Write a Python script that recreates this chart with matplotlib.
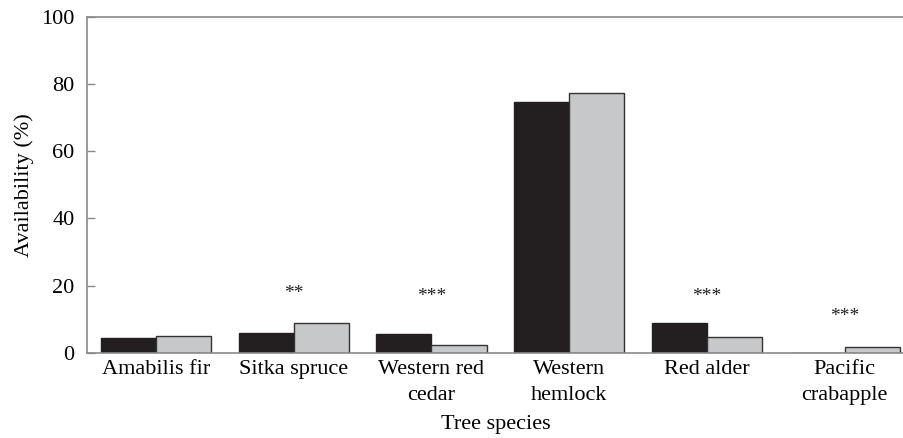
import numpy as np
import matplotlib
matplotlib.use("Agg")
import matplotlib.pyplot as plt

species = ["Amabilis fir", "Sitka spruce", "Western red\ncedar",
           "Western\nhemlock", "Red alder", "Pacific\ncrabapple"]
used = [4.4, 6.0, 5.6, 74.5, 9.0, 0.0]
available = [5.0, 8.8, 2.3, 77.2, 4.7, 1.9]
stars = ["", "**", "***", "", "***", "***"]
star_y = [0, 17.6, 16.9, 0, 16.9, 11.0]

plt.rcParams["font.family"] = ["Liberation Serif", "DejaVu Serif"]

fig = plt.figure(figsize=(9.04, 4.38), dpi=100)
ax = fig.add_axes([0.0962, 0.194, 0.9038, 0.768])

x = np.arange(len(species))
w = 0.4
ax.bar(x - w / 2, used, w, color="#231f20", edgecolor="#231f20", linewidth=1)
ax.bar(x + w / 2, available, w, color="#c7c8ca", edgecolor="#333333", linewidth=1)

for xi, s, sy in zip(x, stars, star_y):
    if s:
        ax.text(xi, sy, s, ha="center", va="center", fontsize=14,
                color="#231f20")

ax.set_xlim(-0.5, 5.43)
ax.set_ylim(0, 100)
ax.set_yticks([0, 20, 40, 60, 80, 100])
ax.set_xticks(x)
ax.set_xticklabels(species, fontsize=16, linespacing=1.5)
ax.tick_params(axis="x", length=0, pad=5)
ax.tick_params(axis="y", direction="in", length=6, width=1, color="#8a8a8a",
               labelsize=16, pad=9)
for side in ["left", "bottom", "top"]:
    ax.spines[side].set_color("#8a8a8a")
    ax.spines[side].set_linewidth(1.2)
ax.spines["right"].set_visible(False)

ax.set_xlabel("Tree species", fontsize=16, labelpad=7)
ax.set_ylabel("Availability (%)", fontsize=16, labelpad=5)

fig.savefig("out.png", dpi=100)
